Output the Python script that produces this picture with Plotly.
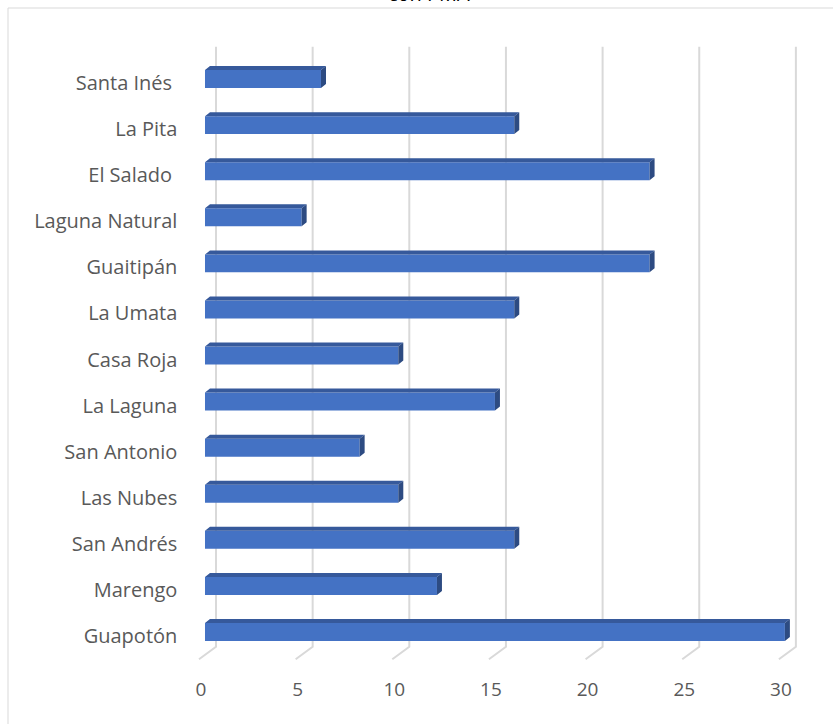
import plotly.graph_objects as go

# Communities (bottom to top) and their counts
categories = ["Guapotón", "Marengo", "San Andrés", "Las Nubes", "San Antonio",
              "La Laguna", "Casa Roja", "La Umata", "Guaitipán", "Laguna Natural",
              "El Salado\u00a0", "La Pita", "Santa Inés\u00a0"]
values = [30, 12, 16, 10, 8, 15, 10, 16, 23, 5, 23, 16, 6]
tick_values = [0, 5, 10, 15, 20, 25, 30]
title_text = "con PMA"

W, H = 833, 724
PX_X = 19.33          # pixels per value unit
PX_Y = 46.08          # pixels per category step
X0_PX = 205           # pixel of value 0 on the bar front plane
Y0_PX = 632           # pixel of first category centre
x_range = [-0.5, 31.0]
y_range = [-0.7, 12.8]

x_dom = [(X0_PX + x_range[0] * PX_X) / W, (X0_PX + x_range[1] * PX_X) / W]
y_dom = [1 - (Y0_PX - y_range[0] * PX_Y) / H, 1 - (Y0_PX - y_range[1] * PX_Y) / H]

bar_h = 0.39                 # bar thickness in category units
dx = 5 / PX_X                # depth offset of the 3D faces
dy = 4 / PX_Y
wall_dx = 11 / PX_X          # back wall offset for gridlines
front_dx = -6 / PX_X
wall_top = (Y0_PX - 46.7) / PX_Y
wall_bot = (Y0_PX - 646.7) / PX_Y
front_bot = (Y0_PX - 659.3) / PX_Y

FRONT = "#4472C4"
TOP = "#36599B"
SIDE = "#2D4B82"
GRID = "#D9D9D9"
TEXT = "#595959"

fig = go.Figure()

# back-wall gridlines with their floor ticks, kept under the bars
shapes = [dict(type="rect", xref="paper", yref="paper",
               x0=8 / W, x1=1.2, y0=-0.2, y1=1 - 8 / H,
               line=dict(color=GRID, width=1), fillcolor="rgba(0,0,0,0)",
               layer="below")]
for t in tick_values:
    xb, xf = t + wall_dx, t + front_dx
    shapes.append(dict(type="path", xref="x", yref="y", layer="below",
                       path=f"M {xb},{wall_top} L {xb},{wall_bot} L {xf},{front_bot}",
                       line=dict(color=GRID, width=2)))

# front faces
idx = list(range(len(categories)))
fig.add_trace(go.Bar(x=values, y=idx, orientation="h", width=bar_h,
                     marker=dict(color=FRONT, line=dict(width=0)),
                     showlegend=False))

# top and side faces
tx, ty, sx, sy = [], [], [], []
for c, v in zip(idx, values):
    top = c + bar_h / 2
    bot = c - bar_h / 2
    tx += [0, v, v + dx, dx, 0, None]
    ty += [top, top, top + dy, top + dy, top, None]
    sx += [v, v + dx, v + dx, v, v, None]
    sy += [bot, bot + dy, top + dy, top, bot, None]
fig.add_trace(go.Scatter(x=tx, y=ty, mode="lines", fill="toself",
                         fillcolor=TOP, line=dict(width=0, color=TOP),
                         hoverinfo="skip", showlegend=False))
fig.add_trace(go.Scatter(x=sx, y=sy, mode="lines", fill="toself",
                         fillcolor=SIDE, line=dict(width=0, color=SIDE),
                         hoverinfo="skip", showlegend=False))

fig.update_layout(
    width=W, height=H,
    margin=dict(l=0, r=0, t=0, b=0),
    paper_bgcolor="white", plot_bgcolor="rgba(0,0,0,0)",
    font=dict(family="Open Sans", color=TEXT),
    xaxis=dict(domain=x_dom, range=x_range, tickvals=tick_values,
               showgrid=False, zeroline=False, showline=False,
               tickfont=dict(size=19, color=TEXT), ticklabelshift=-4,
               ticklabelstandoff=12),
    yaxis=dict(domain=y_dom, range=y_range, tickvals=idx, ticktext=categories,
               showgrid=False, zeroline=False, showline=False,
               tickfont=dict(size=20, color=TEXT), ticklabelshift=4,
               ticklabelstandoff=17),
    shapes=shapes,
    annotations=[dict(text=title_text, xref="paper", yref="paper",
                      x=429 / W, y=1 - 9 / H, xanchor="center", yanchor="bottom",
                      showarrow=False, font=dict(size=20, color="#000000"))],
)

fig.write_html("out.html")
